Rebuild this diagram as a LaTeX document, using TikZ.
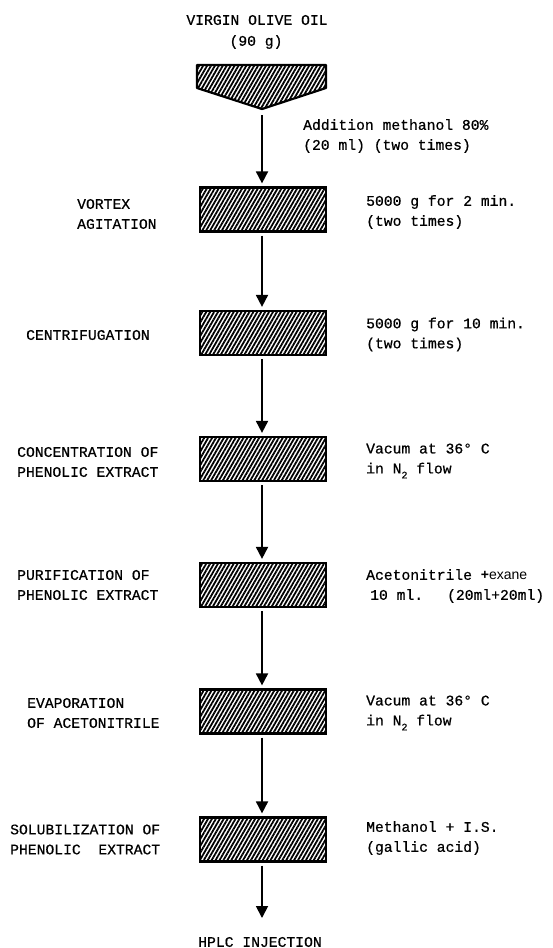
\documentclass[tikz,border=0pt]{standalone}
\usepackage{fontspec}
\setmainfont{Liberation Mono}[FakeBold=0.6]
\newfontfamily\sansf{Liberation Sans}
\usetikzlibrary{arrows.meta,patterns.meta}
\begin{document}
\begin{tikzpicture}[x=1pt,y=-1pt,
  every node/.style={font=\fontsize{14.7}{20}\selectfont, inner sep=0pt},
  hatch/.style={pattern={Lines[angle=60,distance=3.4pt,line width=1.8pt]}},
  hatchbox/.style={hatch, draw=black, line width=2.2pt, minimum width=126pt, minimum height=44pt},
  lbl/.style={anchor=west, align=left},
  arr/.style={line width=1.8pt, -{Triangle[width=12pt,length=12pt]}, shorten <=3pt, shorten >=3pt}]
\useasboundingbox (0,0) rectangle (552,948);
% title
\node (t1) at (257,20) {VIRGIN OLIVE OIL};
\node (t2) at (256,42) {(90 g)};
% funnel
\draw[hatch, line width=2.2pt, line join=round]
  (197,65) -- (326,65) -- (326,88) -- (262,109) -- (197,88) -- cycle;
\coordinate (ftip) at (262,109);
\node[lbl] (add) at (303,136) {Addition methanol 80\%\\(20 ml) (two times)};
% boxes
\node[hatchbox] (b1) at (263,209.5) {};
\node[hatchbox] (b2) at (263,333) {};
\node[hatchbox] (b3) at (263,459) {};
\node[hatchbox] (b4) at (263,585) {};
\node[hatchbox] (b5) at (263,711.5) {};
\node[hatchbox] (b6) at (263,839.5) {};
% left labels
\node[lbl] (l1) at (77,214) {VORTEX\\AGITATION};
\node[lbl] (l2) at (26,335) {CENTRIFUGATION};
\node[lbl] (l3) at (17,462) {CONCENTRATION OF\\PHENOLIC EXTRACT};
\node[lbl] (l4) at (17,585) {PURIFICATION OF\\PHENOLIC EXTRACT};
\node[lbl] (l5) at (27,713) {EVAPORATION\\OF ACETONITRILE};
\node[lbl] (l6) at (10,839.5) {SOLUBILIZATION OF\\PHENOLIC\ \ EXTRACT};
% right labels
\node[lbl] (r1) at (366,212) {5000 g for 2 min.\\(two times)};
\node[lbl] (r2) at (366,334.5) {5000 g for 10 min.\\(two times)};
\node[lbl] (r3) at (366,461) {Vacum at 36° C\\in N\raisebox{-5pt}{\fontsize{10}{10}\selectfont 2} flow};
\node[lbl] (r4) at (366,586) {Acetonitrile {\sansf\fontsize{14}{20}\selectfont \textbf{+}exane}\\\hspace{4pt}10 ml.\hspace{24pt}(20ml+20ml)};
\node[lbl] (r5) at (366,713) {Vacum at 36° C\\in N\raisebox{-5pt}{\fontsize{10}{10}\selectfont 2} flow};
\node[lbl] (r6) at (366,838) {Methanol + I.S.\\(gallic acid)};
% end
\node (hplc) at (260,942) {HPLC INJECTION};
\coordinate (hend) at (262,921);
% arrows
\draw[arr, shorten <=6pt] (ftip) -- (b1.north -| ftip);
\draw[arr] (b1.south -| ftip) -- (b2.north -| ftip);
\draw[arr] (b2.south -| ftip) -- (b3.north -| ftip);
\draw[arr] (b3.south -| ftip) -- (b4.north -| ftip);
\draw[arr] (b4.south -| ftip) -- (b5.north -| ftip);
\draw[arr] (b5.south -| ftip) -- (b6.north -| ftip);
\draw[arr] (b6.south -| ftip) -- (hend);
\end{tikzpicture}
\end{document}
